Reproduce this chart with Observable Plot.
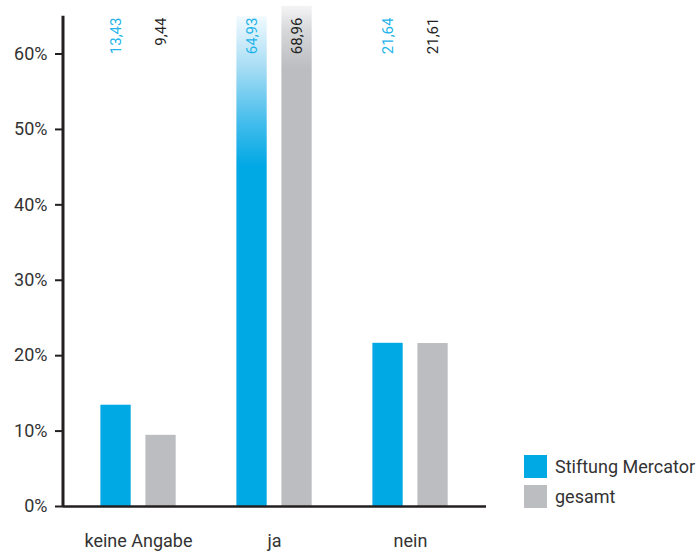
<!DOCTYPE html>
<html><head><meta charset="utf-8">
<script src="https://cdn.jsdelivr.net/npm/d3@7"></script>
<script src="https://cdn.jsdelivr.net/npm/@observablehq/plot@0.6"></script>
<style>
body{margin:0;background:#fff;font-family:Roboto,sans-serif}
#wrap{position:relative;width:700px;height:552px}
#legend{position:absolute;left:524px;top:455px;font-size:18px;color:#333}
.row{display:flex;align-items:center;height:23px;margin-bottom:7px}
.sw{width:23px;height:23px;margin-right:8px}
</style></head><body><div id="wrap"><div id="legend"></div></div>
<script>
const categories = ["keine Angabe", "ja", "nein"];
const series = ["Stiftung Mercator", "gesamt"];
const mercator = [13.43, 64.93, 21.64];
const gesamt = [9.44, 68.96, 21.61];
const labelsMercator = ["13,43", "64,93", "21,64"];
const labelsGesamt = ["9,44", "68,96", "21,61"];
const yTicks = [0, 10, 20, 30, 40, 50, 60];
const colors = ["#00a8e4", "#bcbdc0"];
const labelColors = ["#22b3ea", "#222222"];

const rowsM = categories.map((c, i) => ({category: c, value: mercator[i], label: labelsMercator[i]}));
const rowsG = categories.map((c, i) => ({category: c, value: gesamt[i], label: labelsGesamt[i]}));

const yMax = 66.3, axisTop = 65;

const axisLine = (index, scales, values, dims) => {
  const l = document.createElementNS("http://www.w3.org/2000/svg", "line");
  l.setAttribute("x1", dims.marginLeft);
  l.setAttribute("x2", dims.marginLeft);
  l.setAttribute("y1", scales.y(0));
  l.setAttribute("y2", scales.y(axisTop));
  l.setAttribute("stroke", "#231f20");
  l.setAttribute("stroke-width", 3);
  return l;
};

const chart = Plot.plot({
  width: 700, height: 552,
  marginLeft: 63, marginRight: 214, marginTop: 6, marginBottom: 46,
  style: {fontFamily: "Roboto, sans-serif", color: "#333", background: "white"},
  x: {domain: categories, paddingInner: 0.1, paddingOuter: 0.1},
  y: {domain: [0, yMax]},
  marks: [
    Plot.barY(rowsM, {x: "category", y: "value", fill: "url(#gradBlue)", insetLeft: 23.4, insetRight: 68.3, clip: true}),
    Plot.barY(rowsG, {x: "category", y: "value", fill: "url(#gradGrey)", insetLeft: 68.4, insetRight: 23.3, clip: true}),
    Plot.text(rowsM, {x: "category", text: "label", frameAnchor: "top", rotate: -90, textAnchor: "end", lineAnchor: "middle", dx: -22.5, dy: 11, fill: labelColors[0], fontSize: 15}),
    Plot.text(rowsG, {x: "category", text: "label", frameAnchor: "top", rotate: -90, textAnchor: "end", lineAnchor: "middle", dx: 22.5, dy: 11, fill: labelColors[1], fontSize: 15}),
    Plot.axisY({ticks: yTicks, tickFormat: d => d + "%", tickSize: 8, tickPadding: 8, fontSize: 18, label: null, stroke: "#231f20", strokeWidth: 2, fill: "#333"}),
    Plot.axisX({tickSize: 0, tickPadding: 28, fontSize: 18, label: null, fill: "#333"}),
    Plot.ruleY([0], {stroke: "#231f20", strokeWidth: 2.5}),
    axisLine
  ]
});

const ys = chart.scale("y");
const svg = d3.select(chart.tagName.toLowerCase() === "svg" ? chart : chart.querySelector("svg"));
const defs = svg.insert("defs", ":first-child");
const gb = defs.append("linearGradient").attr("id", "gradBlue").attr("gradientUnits", "userSpaceOnUse")
  .attr("x1", 0).attr("x2", 0).attr("y1", ys.apply(axisTop)).attr("y2", ys.apply(45));
gb.append("stop").attr("offset", 0).attr("stop-color", "#f2fafe");
gb.append("stop").attr("offset", 0.35).attr("stop-color", "#a5dcf4");
gb.append("stop").attr("offset", 0.7).attr("stop-color", "#45bdec");
gb.append("stop").attr("offset", 1).attr("stop-color", colors[0]);
const gg = defs.append("linearGradient").attr("id", "gradGrey").attr("gradientUnits", "userSpaceOnUse")
  .attr("x1", 0).attr("x2", 0).attr("y1", ys.apply(yMax)).attr("y2", ys.apply(58));
gg.append("stop").attr("offset", 0).attr("stop-color", "#f4f4f5");
gg.append("stop").attr("offset", 0.4).attr("stop-color", "#d6d7d9");
gg.append("stop").attr("offset", 1).attr("stop-color", colors[1]);

document.getElementById("wrap").prepend(chart);
const legend = d3.select("#legend");
series.forEach((s, i) => {
  const r = legend.append("div").attr("class", "row");
  r.append("div").attr("class", "sw").style("background", colors[i]);
  r.append("span").text(s);
});
</script></body></html>
